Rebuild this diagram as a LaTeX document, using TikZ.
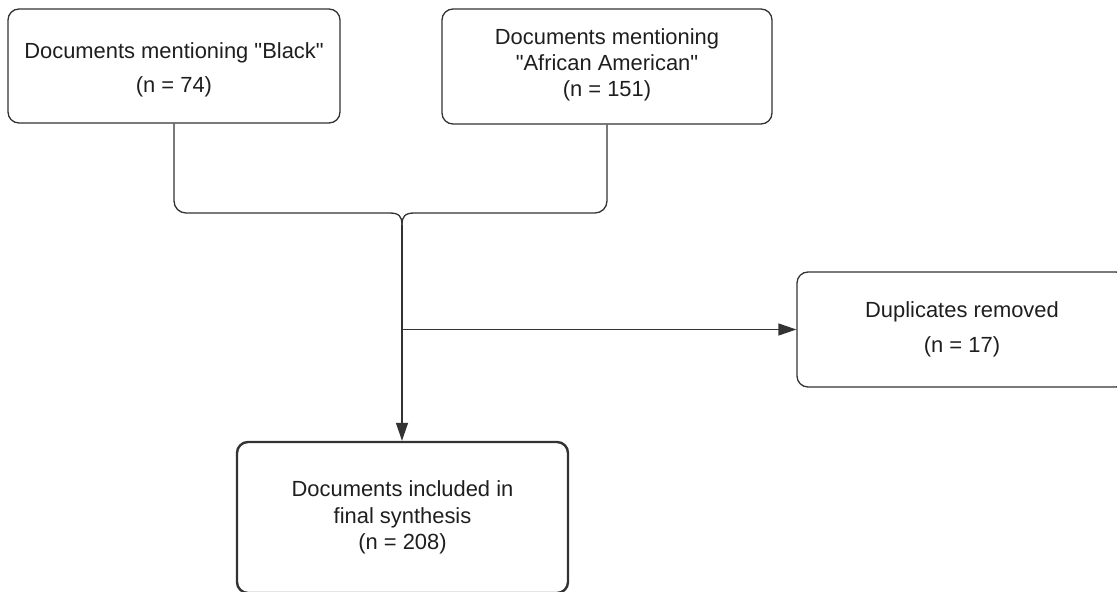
\documentclass[tikz,border=0pt]{standalone}
\usepackage{fontspec}
\setmainfont{Liberation Sans}
\usetikzlibrary{arrows.meta}
\definecolor{linec}{HTML}{333333}
\definecolor{textc}{HTML}{1E1E1E}
\tikzset{
  box/.style={draw=linec, line width=1.3bp, rounded corners=11bp, align=center,
    inner sep=0pt, text=textc, font=\fontsize{22}{26.5}\selectfont},
  thickbox/.style={box, line width=2.4bp},
  conn/.style={draw=linec, line width=1.3bp},
  arrowc/.style={conn, -{Triangle[length=18bp,width=12bp]}}
}
\begin{document}
\begin{tikzpicture}[x=1bp,y=-1bp]
\useasboundingbox (0,0) rectangle (1117,592);
\node[box, minimum width=332bp, minimum height=114bp] (b1) at (174,66)
  {\rule{0pt}{24bp}Documents mentioning \textquotedbl Black\textquotedbl\\[8bp](n = 74)};
\node[box, minimum width=330bp, minimum height=115bp, text depth=8bp] (b2) at (607,66.5)
  {Documents mentioning\\\textquotedbl African American\textquotedbl\\(n = 151)};
\node[box, minimum width=330bp, minimum height=115bp] (b3) at (962,329.5)
  {Duplicates removed\\[8bp](n = 17)};
\node[thickbox, minimum width=331bp, minimum height=151bp] (b4) at (402.5,517.5)
  {Documents included in\\final synthesis\\(n = 208)};
\coordinate (bl) at (389,213);
\coordinate (br) at (415,213);
\coordinate (tip) at (402,225);
\coordinate (junc) at (tip |- b3.west);
\draw[conn, rounded corners=12bp] (b1.south) |- (bl);
\draw[conn, rounded corners=12bp] (b2.south) |- (br);
\draw[conn] (bl) .. controls (399,213) and (402,216) .. (tip);
\draw[conn] (br) .. controls (405,213) and (402,216) .. (tip);
\draw[arrowc] (tip) -- (tip |- b4.north);
\draw[arrowc] (junc) -- (b3.west);
\end{tikzpicture}
\end{document}
